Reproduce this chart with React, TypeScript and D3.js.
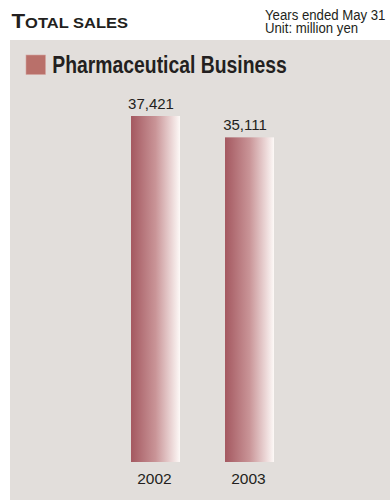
import React from "react";
import * as d3 from "d3";

const years = ["2002", "2003"];
const sales = [37421, 35111];
const valueLabels = ["37,421", "35,111"];
const seriesName = "Pharmaceutical Business";
const titleFirst = "T";
const titleRest = "OTAL SALES";
const noteLines = ["Years ended May 31", "Unit: million yen"];

const W = 390;
const H = 502;

export default function App() {
  const x = d3
    .scaleBand<string>()
    .domain(years)
    .range([108.5, 296.5])
    .paddingInner(0.479)
    .paddingOuter(0.2395);
  const y = d3
    .scaleLinear()
    .domain([0, d3.max(sales) as number])
    .range([462, 116]);
  const font = "'Liberation Sans', Arial, sans-serif";
  const narrow = "'Liberation Sans Narrow', 'Liberation Sans', Arial, sans-serif";
  return (
    <svg
      width={W}
      height={H}
      style={{ position: "absolute", left: 0, top: 0, background: "#fff" }}
    >
      <defs>
        <linearGradient id="barGrad" x1="0" x2="1" y1="0" y2="0">
          <stop offset="0" stopColor="#a45860" />
          <stop offset="0.5" stopColor="#c99497" />
          <stop offset="1" stopColor="#fdf9f7" />
        </linearGradient>
      </defs>
      <rect x={10} y={40} width={380} height={460} fill="#e2dedb" />
      <text
        x={11.5}
        y={28.3}
        fontFamily={font}
        fontWeight="bold"
        fill="#231f20"
        textLength={116.5}
        lengthAdjust="spacingAndGlyphs"
      >
        <tspan fontSize={21}>{titleFirst}</tspan>
        <tspan fontSize={15.5}>{titleRest}</tspan>
      </text>
      <text
        transform="translate(265,19.5) scale(0.88,1)"
        fontFamily={font}
        fontSize={15}
        fill="#231f20"
      >
        {noteLines.map((t, i) => (
          <tspan key={t} x={0} y={i * 13.5}>
            {t}
          </tspan>
        ))}
      </text>
      <rect x={26} y={55} width={19.5} height={19.5} fill="#b9706a" stroke="#d4a39e" strokeWidth={0.6} />
      <text
        x={52.3}
        y={73.3}
        fontFamily={narrow}
        fontWeight="bold"
        fontSize={23}
        fill="#231f20"
        textLength={234.5}
        lengthAdjust="spacingAndGlyphs"
      >
        {seriesName}
      </text>
      {years.map((yr, i) => {
        const bx = x(yr) as number;
        const bw = x.bandwidth();
        const top = y(sales[i]);
        return (
          <g key={yr}>
            <rect x={bx} y={top} width={bw} height={y(0) - top} fill="url(#barGrad)" />
            <text
              x={bx + bw / 2 - 4.5}
              y={top - 7.5}
              textAnchor="middle"
              fontFamily={font}
              fontSize={15}
              fill="#231f20"
            >
              {valueLabels[i]}
            </text>
            <text
              x={bx + bw / 2 - 1}
              y={484.3}
              textAnchor="middle"
              fontFamily={font}
              fontSize={15.5}
              fill="#231f20"
            >
              {yr}
            </text>
          </g>
        );
      })}
    </svg>
  );
}
